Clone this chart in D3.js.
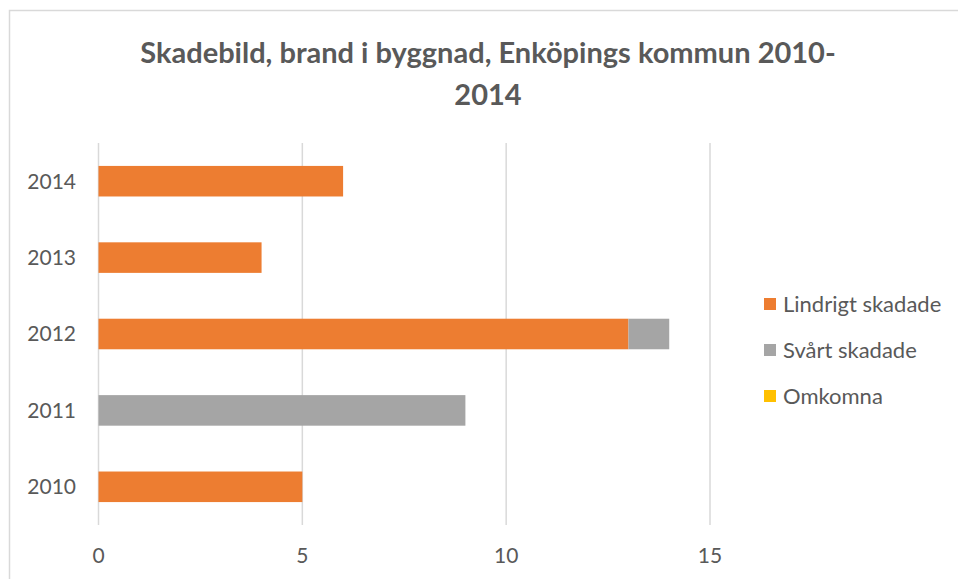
<!DOCTYPE html>
<html>
<head>
<meta charset="utf-8">
<script src="https://cdn.jsdelivr.net/npm/d3@7"></script>
<style>
  body { margin: 0; background: #fff; }
  svg text { font-family: Lato, "Open Sans", sans-serif; fill: #595959; }
</style>
</head>
<body>
<script>
/* Chart data */
var years     = ["2010", "2011", "2012", "2013", "2014"];
var lindrigt  = [5, 0, 13, 4, 6];
var svart     = [0, 9, 1, 0, 0];
var omkomna   = [0, 0, 0, 0, 0];
var seriesNames  = ["Lindrigt skadade", "Svårt skadade", "Omkomna"];
var seriesColors = ["#ED7D31", "#A5A5A5", "#FFC000"];
var xTicks    = [0, 5, 10, 15];
var titleLines = ["Skadebild, brand i byggnad, Enköpings kommun 2010-", "2014"];

var width = 958, height = 579;
var plot = {left: 98.5, right: 710, top: 143, bottom: 525};

var svg = d3.select("body").append("svg")
    .attr("width", width)
    .attr("height", height);

// Chart frame
svg.append("rect")
    .attr("x", 9.5).attr("y", 10.5)
    .attr("width", 960).attr("height", 600)
    .attr("fill", "#fff")
    .attr("stroke", "#d9d9d9")
    .attr("stroke-width", 1.5);

// Title
svg.append("g").selectAll("text")
    .data(titleLines)
    .enter().append("text")
    .attr("x", 488)
    .attr("y", function (d, i) { return 63 + i * 42; })
    .attr("text-anchor", "middle")
    .style("font-size", "29px")
    .style("font-weight", "bold")
    .text(function (d) { return d; });

// Scales
var x = d3.scaleLinear().domain([0, 15]).range([plot.left, plot.right]);
var y = d3.scaleBand().domain(years.slice().reverse()).range([plot.top, plot.bottom]).paddingInner(0.6).paddingOuter(0.3);

// Gridlines
svg.append("g").selectAll("line")
    .data(xTicks)
    .enter().append("line")
    .attr("x1", function (d) { return x(d); })
    .attr("x2", function (d) { return x(d); })
    .attr("y1", plot.top)
    .attr("y2", plot.bottom)
    .attr("stroke", "#d9d9d9")
    .attr("stroke-width", 1.5);

// Stacked bars
var rows = years.map(function (yr, i) {
    return {year: yr, "Lindrigt skadade": lindrigt[i], "Svårt skadade": svart[i], "Omkomna": omkomna[i]};
});
var stack = d3.stack().keys(seriesNames)(rows);

svg.append("g").selectAll("g")
    .data(stack)
    .enter().append("g")
    .attr("fill", function (d, i) { return seriesColors[i]; })
    .selectAll("rect")
    .data(function (d) { return d.filter(function (p) { return p[1] > p[0]; }); })
    .enter().append("rect")
    .attr("x", function (d) { return x(d[0]); })
    .attr("y", function (d) { return y(d.data.year); })
    .attr("width", function (d) { return x(d[1]) - x(d[0]); })
    .attr("height", y.bandwidth());

// Y axis labels
svg.append("g").selectAll("text")
    .data(years)
    .enter().append("text")
    .attr("x", 76)
    .attr("y", function (d) { return y(d) + y.bandwidth() / 2; })
    .attr("dy", "0.35em")
    .attr("text-anchor", "end")
    .style("font-size", "21px")
    .text(function (d) { return d; });

// X axis labels
svg.append("g").selectAll("text")
    .data(xTicks)
    .enter().append("text")
    .attr("x", function (d) { return x(d); })
    .attr("y", 556)
    .attr("dy", "0.35em")
    .attr("text-anchor", "middle")
    .style("font-size", "21px")
    .text(function (d) { return d; });

// Legend
var legend = svg.append("g").selectAll("g")
    .data(seriesNames)
    .enter().append("g")
    .attr("transform", function (d, i) { return "translate(764," + (304 + i * 46) + ")"; });

legend.append("rect")
    .attr("x", 0).attr("y", -6)
    .attr("width", 12).attr("height", 12)
    .attr("fill", function (d, i) { return seriesColors[i]; });

legend.append("text")
    .attr("x", 19)
    .attr("dy", "0.35em")
    .style("font-size", "22px")
    .text(function (d) { return d; });
</script>
</body>
</html>
